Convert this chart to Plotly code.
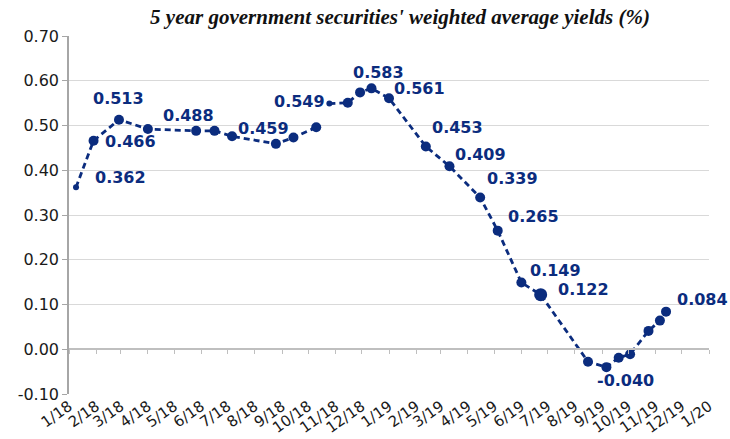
import plotly.graph_objects as go

# ---- data ----
dates = ["2018-01-09", "2018-01-29", "2018-02-27", "2018-04-01", "2018-05-26",
         "2018-06-16", "2018-07-06", "2018-08-25", "2018-09-14", "2018-10-10",
         "2018-10-17",
         "2018-10-25", "2018-11-15", "2018-11-29", "2018-12-12", "2019-01-01",
         "2019-02-12", "2019-03-11", "2019-04-15", "2019-05-05", "2019-06-01",
         "2019-06-23", "2019-08-16", "2019-09-06", "2019-09-20", "2019-10-03",
         "2019-10-24", "2019-11-06", "2019-11-13"]
yields = [0.362, 0.466, 0.513, 0.492, 0.488,
          0.488, 0.476, 0.459, 0.473, 0.496,
          None,
          0.549, 0.551, 0.574, 0.583, 0.561,
          0.453, 0.409, 0.339, 0.265, 0.149,
          0.122, -0.028, -0.040, -0.019, -0.011,
          0.041, 0.064, 0.084]

labelled_idx = [0, 1, 2, 4, 7, 11, 14, 15, 16, 17, 18, 19, 20, 21, 23, 28]
label_texts = ["0.362", "0.466", "0.513", "0.488", "0.459", "0.549", "0.583", "0.561",
               "0.453", "0.409", "0.339", "0.265", "0.149", "0.122", "-0.040", "0.084"]

ytick_vals = [-0.1, 0.0, 0.1, 0.2, 0.3, 0.4, 0.5, 0.6, 0.7]
ytick_text = ["-0.10", "0.00", "0.10", "0.20", "0.30", "0.40", "0.50", "0.60", "0.70"]

title_text = "5 year government securities' weighted average yields (%)"

# ---- styles ----
NAVY = "#0B2C7E"
label_offsets = [(44, 10), (37, -1), (0, 21), (-8, 15), (-12, 15), (-30, 2), (7, 16), (30, 10),
                 (32, 19), (31, 12), (32, 19), (36, 14), (34, 12), (43, 5), (19, -13), (36, 12)]
marker_sizes = [6] + [10] * 10 + [6] + [10] * 9 + [13] + [10] * 7

fig = go.Figure()
fig.add_trace(go.Scatter(
    x=dates, y=yields, mode="lines+markers",
    line=dict(color=NAVY, width=2.8, dash="6px,4px"),
    marker=dict(color=NAVY, size=marker_sizes, opacity=1, line=dict(width=0)),
    connectgaps=False, showlegend=False, xaxis="x", yaxis="y", cliponaxis=False,
))
# invisible trace to bind the zero-line tick axis
fig.add_trace(go.Scatter(x=[dates[0]], y=[None], xaxis="x2", yaxis="y",
                         showlegend=False, hoverinfo="skip"))

for i, t, (dx, dy) in zip(labelled_idx, label_texts, label_offsets):
    fig.add_annotation(x=dates[i], y=yields[i], text=t, showarrow=False,
                       xanchor="center", yanchor="middle", xshift=dx, yshift=dy,
                       font=dict(family="DejaVu Sans", size=16, color=NAVY, weight="bold"))

xr = ["2018-01-01", "2020-01-01"]
fig.update_layout(
    width=730, height=439,
    margin=dict(l=69, r=21, t=36, b=45, autoexpand=False),
    paper_bgcolor="white", plot_bgcolor="white",
    title=dict(text=title_text, x=400 / 730, xanchor="center", xref="container",
               y=1 - 17 / 439, yanchor="middle", yref="container",
               font=dict(family="Liberation Serif", size=21, color="#111111",
                         weight="bold", style="italic")),
    xaxis=dict(type="date", range=xr, tick0="2018-01-01", dtick="M1",
               tickformat="%-m/%y", tickangle=-35, showgrid=False, showline=False,
               zeroline=False, ticks="", automargin=False,
               tickfont=dict(family="DejaVu Sans", size=15, color="#1a1a1a")),
    xaxis2=dict(type="date", range=xr, tick0="2018-01-01", dtick="M1",
                overlaying="x", anchor="free", position=0.125, side="bottom",
                showline=True, linecolor="#BFBFBF", linewidth=1.5,
                ticks="outside", ticklen=4, tickcolor="#BFBFBF", tickwidth=1,
                showticklabels=False, showgrid=False, zeroline=False, automargin=False),
    yaxis=dict(range=[-0.1, 0.7], tickvals=ytick_vals, ticktext=ytick_text,
               showgrid=True, gridcolor="#D9D9D9", gridwidth=1, zeroline=False,
               showline=True, linecolor="#A6A6A6", linewidth=1.5, automargin=False,
               ticks="outside", ticklen=5, tickcolor="#A6A6A6",
               tickfont=dict(family="DejaVu Sans", size=16, color="#1a1a1a")),
)

fig.write_html("out.html", config={"displayModeBar": False},
               post_script="document.body.style.margin='0';")
